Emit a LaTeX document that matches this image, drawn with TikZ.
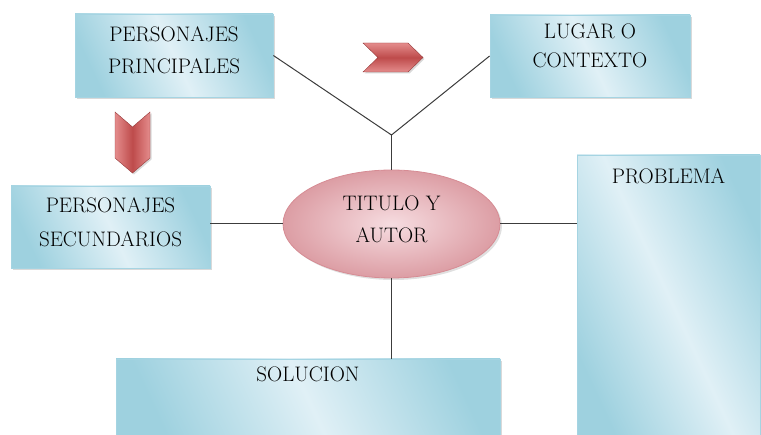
\documentclass[tikz,border=0pt]{standalone}
\usetikzlibrary{shadows,shapes.geometric}
\definecolor{bluelight}{RGB}{224,240,246}
\definecolor{bluedark}{RGB}{158,209,223}
\definecolor{blueedge}{RGB}{165,212,226}
\definecolor{pinklight}{RGB}{246,220,224}
\definecolor{pinkdark}{RGB}{214,140,148}
\definecolor{redlight}{RGB}{228,140,140}
\definecolor{reddark}{RGB}{190,75,75}
\definecolor{linegray}{RGB}{60,60,60}
\tikzset{
  bluebox/.style={draw=blueedge, line width=0.8pt, shading=axis, left color=bluedark, right color=bluedark, middle color=bluelight, shading angle=115,
    drop shadow={shadow xshift=2pt, shadow yshift=-2pt, fill=black!25, opacity=0.6}, inner sep=0pt},
  ovalbox/.style={ellipse, draw=pinkdark, line width=0.8pt, inner color=pinklight, outer color=pinkdark!85,
    drop shadow={shadow xshift=2pt, shadow yshift=-2pt, fill=black!20, opacity=0.6}, inner sep=0pt},
  chev/.style={shading=axis, top color=redlight, bottom color=redlight, middle color=reddark, draw=reddark!80!black, line width=0.4pt,
    drop shadow={shadow xshift=1.5pt, shadow yshift=-1.5pt, fill=black!25, opacity=0.6}},
  conn/.style={draw=linegray, line width=1pt},
  boxlabel/.style={font=\fontsize{21}{32}\selectfont, inner sep=0pt, align=center, text=black}
}
\begin{document}
\begin{tikzpicture}[x=1pt,y=-1pt]
\useasboundingbox (0,0) rectangle (761,435);
% boxes
\node[bluebox, minimum width=198pt, minimum height=83pt,
  label={[boxlabel, yshift=5pt]center:PERSONAJES\\PRINCIPALES}] (pp) at (174,55.5) {};
\node[bluebox, minimum width=200pt, minimum height=82pt,
  label={[boxlabel, yshift=10pt, font=\fontsize{21}{29}\selectfont]center:LUGAR O\\CONTEXTO}] (lugar) at (590,56) {};
\node[bluebox, minimum width=199pt, minimum height=82pt,
  label={[boxlabel, yshift=5pt, font=\fontsize{21}{34}\selectfont]center:PERSONAJES\\SECUNDARIOS}] (ps) at (110.5,227) {};
\node[bluebox, minimum width=183pt, minimum height=282pt,
  label={[boxlabel, yshift=120pt]center:PROBLEMA}] (prob) at (668.5,296) {};
\node[bluebox, minimum width=384pt, minimum height=80pt,
  label={[boxlabel, yshift=25pt]center:SOLUCION}] (sol) at (308,399) {};
\node[ovalbox, minimum width=217pt, minimum height=108pt,
  label={[boxlabel, yshift=5pt]center:TITULO Y\\AUTOR}] (tit) at (391.5,224) {};
\coordinate (junc) at (tit.north |- 0,135);
\draw[conn] (pp.east) -- (junc) -- (lugar.west);
\draw[conn] (junc) -- (tit.north);
\draw[conn] (ps.east |- tit.west) -- (tit.west);
\draw[conn] (tit.east) -- (prob.west |- tit.east);
\draw[conn] (tit.south) -- (sol.north -| tit.south);
% chevrons
\path[chev] (363,43) -- (408,43) -- (423,57.5) -- (408,72) -- (363,72) -- (378,57.5) -- cycle;
\path[chev, shading angle=90] (115,112) -- (132.5,127) -- (150,112) -- (150,158) -- (132.5,173) -- (115,158) -- cycle;
\end{tikzpicture}
\end{document}
